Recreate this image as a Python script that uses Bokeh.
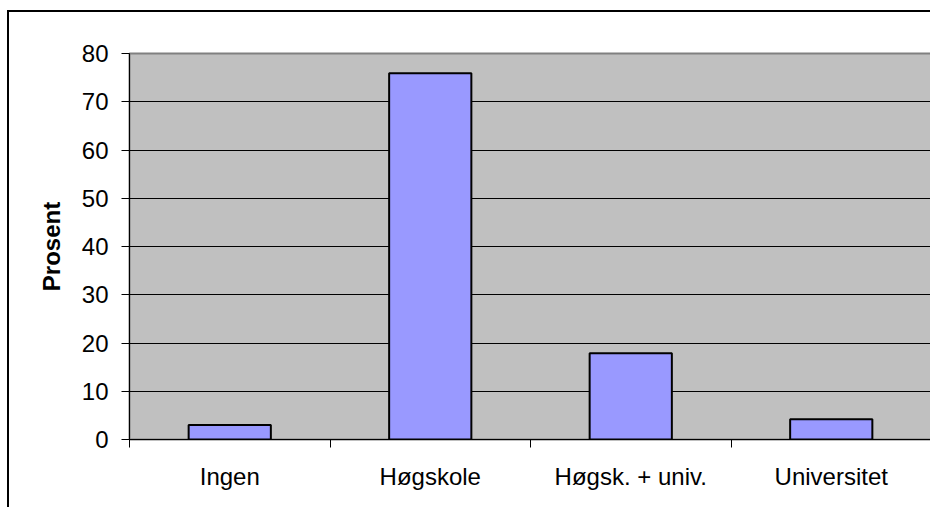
from bokeh.plotting import figure
from bokeh.models import Range1d, FixedTicker
from bokeh.embed import file_html
from bokeh.resources import INLINE

categories = ["Ingen", "Høgskole", "Høgsk. + univ.", "Universitet"]
values = [3.0, 75.9, 17.9, 4.2]
y_ticks = [0, 10, 20, 30, 40, 50, 60, 70, 80]

xs = [i + 0.5 for i in range(len(categories))]
bounds = list(range(len(categories) + 1))

p = figure(width=923, height=497, output_backend="svg", toolbar_location=None,
           x_range=Range1d(0, len(categories)), y_range=Range1d(0, 80),
           min_border_left=120, min_border_right=1, min_border_top=41, min_border_bottom=70,
           styles={"border-left": "2px solid black", "border-top": "2px solid black",
                   "margin-left": "7px", "margin-top": "10px"})

p.background_fill_color = "#C0C0C0"
p.border_fill_color = "white"
p.outline_line_color = "#808080"
p.outline_line_width = 2

p.vbar(x=xs, top=values, width=0.41, bottom=0, fill_color="#9999FF",
       line_color="black", line_width=2)

p.xgrid.visible = False
p.ygrid.grid_line_color = "black"
p.ygrid.grid_line_width = 1
p.ygrid.ticker = FixedTicker(ticks=y_ticks)

font = "Liberation Sans"

yax = p.yaxis[0]
yax.ticker = FixedTicker(ticks=y_ticks)
yax.axis_label = "Prosent"
yax.axis_label_text_font = font
yax.axis_label_text_font_style = "bold"
yax.axis_label_text_font_size = "24px"
yax.axis_label_text_color = "black"
yax.axis_label_standoff = 14
yax.major_label_text_font = font
yax.major_label_text_font_size = "24px"
yax.major_label_text_color = "black"
yax.major_label_standoff = 13
yax.major_tick_in = 0
yax.major_tick_out = 8
yax.minor_tick_line_color = None
yax.axis_line_color = "black"
yax.major_tick_line_color = "black"

xax = p.xaxis[0]
xax.ticker = FixedTicker(ticks=xs, minor_ticks=bounds)
xax.major_label_overrides = {x: c for x, c in zip(xs, categories)}
xax.major_label_text_font = font
xax.major_label_text_font_size = "24px"
xax.major_label_text_color = "black"
xax.major_label_standoff = 15
xax.major_tick_in = 0
xax.major_tick_out = 0
xax.minor_tick_in = 0
xax.minor_tick_out = 8
xax.minor_tick_line_color = "black"
xax.axis_line_color = "black"

open("out.html", "w").write(file_html(p, INLINE))
